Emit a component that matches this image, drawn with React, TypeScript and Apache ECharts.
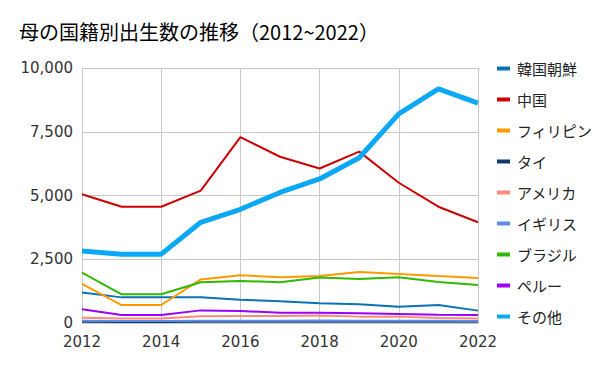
import React, { useEffect, useRef } from "react";
import * as echarts from "echarts";

const years = ["2012", "2013", "2014", "2015", "2016", "2017", "2018", "2019", "2020", "2021", "2022"];
const korea = [1200, 1005, 1005, 1005, 915, 850, 770, 735, 640, 705, 485];
const china = [5050, 4560, 4560, 5190, 7290, 6520, 6060, 6720, 5500, 4560, 3950];
const philippines = [1530, 705, 705, 1710, 1870, 1790, 1840, 2000, 1920, 1840, 1765];
const thailand = [50, 40, 40, 45, 50, 50, 55, 50, 50, 45, 45];
const usa = [210, 180, 180, 260, 275, 275, 290, 250, 250, 200, 180];
const uk = [90, 80, 80, 85, 90, 90, 95, 90, 90, 85, 80];
const brazil = [1975, 1125, 1125, 1595, 1650, 1600, 1780, 1725, 1790, 1610, 1490];
const peru = [535, 315, 315, 495, 470, 405, 405, 380, 355, 325, 315];
const others = [2820, 2700, 2700, 3950, 4460, 5120, 5650, 6480, 8200, 9180, 8620];
const yTicks = [0, 2500, 5000, 7500, 10000];

const seriesDefs = [
  { name: "韓国朝鮮", data: korea, color: "#0a72b8", width: 2 },
  { name: "中国", data: china, color: "#cc0000", width: 2 },
  { name: "フィリピン", data: philippines, color: "#ff9900", width: 2 },
  { name: "タイ", data: thailand, color: "#0b3a6b", width: 2 },
  { name: "アメリカ", data: usa, color: "#ff8a78", width: 2 },
  { name: "イギリス", data: uk, color: "#5b8ee6", width: 2 },
  { name: "ブラジル", data: brazil, color: "#33b800", width: 2 },
  { name: "ペルー", data: peru, color: "#9900ff", width: 2 },
  { name: "その他", data: others, color: "#0aa8f5", width: 5 },
];

export default function App() {
  const ref = useRef<HTMLDivElement>(null);
  useEffect(() => {
    if (!ref.current) return;
    const chart = echarts.init(ref.current, null, { renderer: "svg" });
    chart.setOption({
      animation: false,
      backgroundColor: "#ffffff",
      title: {
        text: "母の国籍別出生数の推移（2012~2022）",
        left: 19,
        top: 21,
        padding: 0,
        textStyle: {
          fontFamily: "Noto Sans CJK JP",
          fontSize: 20,
          fontWeight: "normal",
          color: "#000",
        },
      },
      legend: {
        orient: "vertical",
        left: 497,
        top: 61,
        padding: 0,
        itemWidth: 13,
        itemHeight: 4,
        itemGap: 16,
        icon: "rect",
        textStyle: { fontFamily: "Noto Sans CJK JP", fontSize: 15, color: "#222", padding: [0, 0, 0, 2] },
        data: seriesDefs.map((s) => s.name),
      },
      grid: { left: 82, right: 122, top: 68, bottom: 48 },
      xAxis: {
        type: "category",
        data: years,
        boundaryGap: false,
        axisLine: { show: false },
        axisTick: { show: false },
        axisLabel: {
          interval: 1,
          fontFamily: "DejaVu Sans",
          fontSize: 15,
          color: "#333",
          margin: 11,
        },
        splitLine: { show: true, interval: 1, lineStyle: { color: "#c8c8c8", width: 1 } },
      },
      yAxis: {
        type: "value",
        min: yTicks[0],
        max: yTicks[yTicks.length - 1],
        interval: 2500,
        axisLine: { show: true, lineStyle: { color: "#c8c8c8" } },
        axisTick: { show: false },
        axisLabel: {
          fontFamily: "DejaVu Sans",
          fontSize: 15,
          color: "#333",
          margin: 9,
        },
        splitLine: { show: true, lineStyle: { color: "#c8c8c8", width: 1 } },
      },
      series: seriesDefs.map((s) => ({
        name: s.name,
        type: "line",
        data: s.data,
        symbol: "none",
        color: s.color,
        lineStyle: { color: s.color, width: s.width },
        itemStyle: { color: s.color },
      })),
    });
    return () => chart.dispose();
  }, []);
  return <div ref={ref} style={{ width: 600, height: 371, position: "absolute", left: 0, top: 0 }} />;
}
